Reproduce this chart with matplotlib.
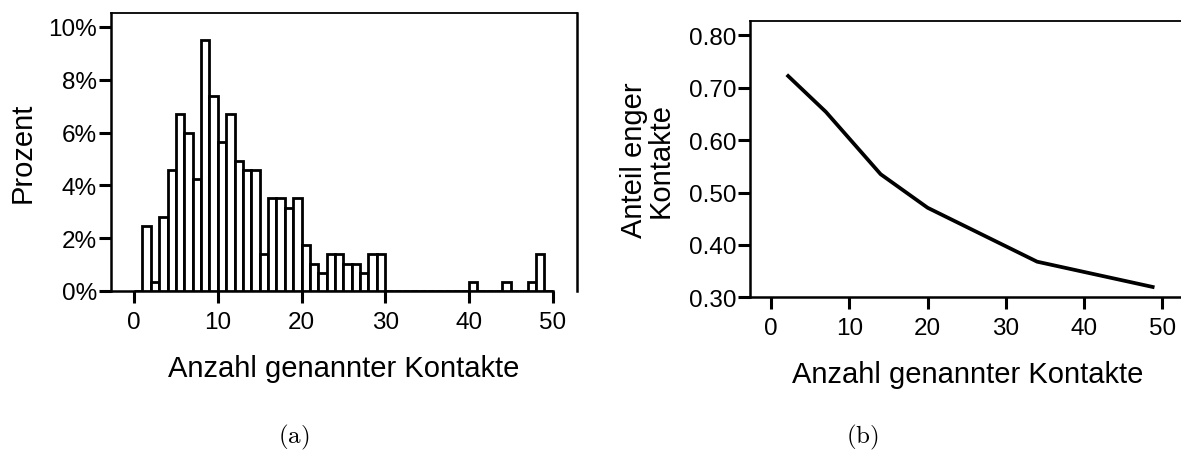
import numpy as np
import matplotlib
matplotlib.use("Agg")
import matplotlib.pyplot as plt

plt.rcParams['font.family'] = ['Liberation Sans', 'DejaVu Sans']
plt.rcParams['mathtext.fontset'] = 'cm'

# Histogramm: Prozent je Anzahl genannter Kontakte (Klassenbreite 1, ab 0)
bin_left = list(range(50))
prozent = [0.00, 2.47, 0.34, 2.82, 4.59, 6.70, 5.98, 4.24, 9.52, 7.40,
           5.63, 6.69, 4.92, 4.59, 4.59, 1.39, 3.52, 3.52, 3.16, 3.52,
           1.74, 1.04, 0.70, 1.39, 1.39, 1.04, 1.04, 0.70, 1.39, 1.39,
           0, 0, 0, 0, 0, 0, 0, 0, 0, 0,
           0.35, 0, 0, 0, 0.35, 0, 0, 0.35, 1.42, 0]

# Anteil enger Kontakte
kontakte = [2, 7, 14, 20, 34, 49]
anteil = [0.725, 0.654, 0.535, 0.471, 0.368, 0.319]

x_ticks = [0, 10, 20, 30, 40, 50]
y_ticks_a = [0, 2, 4, 6, 8, 10]
y_ticks_b = [0.30, 0.40, 0.50, 0.60, 0.70, 0.80]

W, H = 1181, 452
fig = plt.figure(figsize=(W / 100, H / 100), dpi=100)

def style_axes(ax):
    ax.tick_params(axis='both', direction='out', length=8.5, width=2.2,
                   labelsize=17.5, color='black')
    ax.tick_params(axis='y', pad=1.5)
    ax.tick_params(axis='x', pad=6)
    ax.spines['left'].set_linewidth(1.8)
    ax.spines['top'].set_linewidth(1.3)
    ax.spines['right'].set_linewidth(1.8)
    ax.spines['bottom'].set_linewidth(1.8)

# (a) Histogramm
ax1 = fig.add_axes([111 / W, 1 - 292 / H, (577 - 111) / W, (292 - 14) / H])
ax1.bar(bin_left, prozent, width=1, align='edge', facecolor='white',
        edgecolor='black', linewidth=2.0, zorder=3)
ax1.set_xlim(-2.75, 52.9)
ax1.set_ylim(0, 10.53)
ax1.set_xticks(x_ticks)
ax1.set_yticks(y_ticks_a)
ax1.set_yticklabels(["%d%%" % v for v in y_ticks_a])
style_axes(ax1)
ax1.spines['bottom'].set_bounds(-2.75, 50)
ax1.set_ylabel("Prozent", fontsize=21, va='center')
ax1.yaxis.set_label_coords((23 - 111) / 466, 0.5)
ax1.set_xlabel("Anzahl genannter Kontakte", fontsize=21, va='top')
ax1.xaxis.set_label_coords(0.5, (292 - 355) / 278)

# (b) Anteil enger Kontakte
ax2 = fig.add_axes([750 / W, 1 - 298.3 / H, (1185 - 750) / W, (298.3 - 22.3) / H])
ax2.plot(kontakte, anteil, color='black', linewidth=2.7, solid_capstyle='butt')
ax2.set_xlim(-2.7, 52.9)
ax2.set_ylim(0.30, 0.827)
ax2.set_xticks(x_ticks)
ax2.set_yticks(y_ticks_b)
ax2.set_yticklabels(["%.2f" % v for v in y_ticks_b])
style_axes(ax2)
ax2.spines['right'].set_visible(False)
ax2.set_ylabel("Anteil enger\nKontakte", fontsize=21, va='center', linespacing=0.95)
ax2.yaxis.set_label_coords((647 - 750) / 435, 0.5)
ax2.set_xlabel("Anzahl genannter Kontakte", fontsize=21, va='top')
ax2.xaxis.set_label_coords(0.5, (298.3 - 361) / 276)

fig.text(294 / W, 1 - 437 / H, r'$\mathrm{(a)}$', fontsize=18, ha='center', va='center')
fig.text(862 / W, 1 - 437 / H, r'$\mathrm{(b)}$', fontsize=18, ha='center', va='center')

fig.savefig("out.png", dpi=100)
